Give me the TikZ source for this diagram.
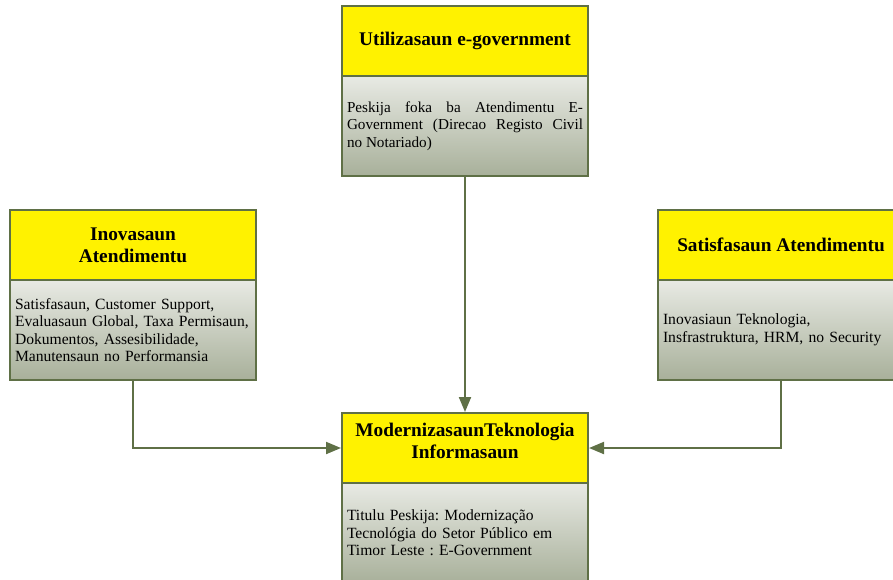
\documentclass[tikz,border=0pt]{standalone}
\usepackage{fontspec}
\setmainfont{Liberation Serif}
\usetikzlibrary{arrows.meta}
\definecolor{frame}{RGB}{95,112,70}
\definecolor{paneltop}{RGB}{232,234,228}
\definecolor{panelbot}{RGB}{168,176,154}
\begin{document}
\frenchspacing
\begin{tikzpicture}[x=1pt,y=-1pt,
  head/.style={draw=frame, line width=2pt, fill=yellow,
    minimum width=246pt, minimum height=70pt, inner sep=0pt,
    align=center, font=\fontsize{19.3}{22}\selectfont\bfseries},
  title/.style={inner sep=0pt, align=center,
    font=\fontsize{19.3}{22}\selectfont\bfseries},
  panel/.style={draw=frame, line width=2pt, top color=paneltop,
    bottom color=panelbot, minimum width=246pt, minimum height=100pt,
    inner xsep=5pt, inner ysep=0pt, text width=236pt,
    font=\fontsize{15.6}{17.5}\selectfont\frenchspacing},
  link/.style={draw=frame, line width=2pt,
    -{Triangle[length=15pt,width=12pt]}}]
\useasboundingbox (0,0) rectangle (893,579);
\clip (0,0) rectangle (893,579);

% top box
\node[panel, align=justify, font=\fontsize{15.2}{17.5}\selectfont] (uBody) at (465,126)
  {Peskija foka ba Atendimentu E-\linebreak Government (Direcao Registo Civil\linebreak no Notariado)};
\node[head] (uHead) at (465,41) {Utilizasaun e-government};

% left box
\node[panel, align=left] (lBody) at (133,330)
  {Satisfasaun, Customer Support,\\Evaluasaun Global, Taxa Permisaun,\\Dokumentos, Assesibilidade,\\Manutensaun no Performansia};
\node[head] (lHead) at (133,245) {Inovasaun\\Atendimentu};

% right box
\node[panel, align=left] (rBody) at (781,330)
  {Inovasiaun Teknologia,\\Insfrastruktura, HRM, no Security};
\node[head] (rHead) at (781,245) {Satisfasaun Atendimentu};

% bottom box
\node[panel, align=left] (mBody) at (465,533)
  {Titulu Peskija: Modernização\\Tecnológia do Setor Público em\\Timor Leste : E-Government};
\node[head] (mHead) at (465,448) {};
\node[title] (mTitle) at (465,441) {ModernizasaunTeknologia\\Informasaun};

% connectors
\draw[link] (uBody.south) -- (mHead.north);
\draw[link] (lBody.south) |- (mHead.west);
\draw[link] (rBody.south) |- (mHead.east);
\end{tikzpicture}
\end{document}
